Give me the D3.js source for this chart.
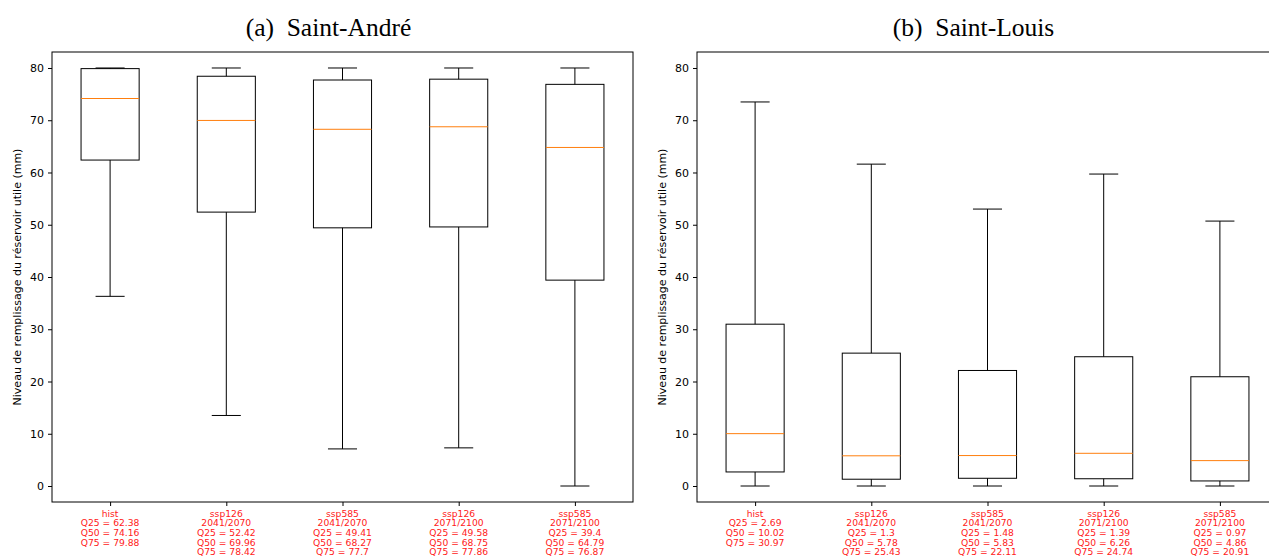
<!DOCTYPE html>
<html>
<head>
<meta charset="utf-8">
<script src="https://cdn.jsdelivr.net/npm/d3@7"></script>
<style>
  html, body { margin: 0; padding: 0; background: #fff; }
  svg { display: block; }
</style>
</head>
<body>
<svg id="chart" width="1269" height="556"></svg>
<script>
// ---- Data ----
const categories = [
  ["hist"],
  ["ssp126", "2041/2070"],
  ["ssp585", "2041/2070"],
  ["ssp126", "2071/2100"],
  ["ssp585", "2071/2100"]
];
const yTicks = [0, 10, 20, 30, 40, 50, 60, 70, 80];
const titles = ["(a)  Saint-André", "(b)  Saint-Louis"];
const yLabel = "Niveau de remplissage du réservoir utile (mm)";

// Saint-André
const andreLow  = [36.3, 13.5, 7.1, 7.3, 0];
const andreQ25  = [62.38, 52.42, 49.41, 49.58, 39.4];
const andreQ50  = [74.16, 69.96, 68.27, 68.75, 64.79];
const andreQ75  = [79.88, 78.42, 77.7, 77.86, 76.87];
const andreHigh = [80, 80, 80, 80, 80];

// Saint-Louis
const louisLow  = [0, 0, 0, 0, 0];
const louisQ25  = [2.69, 1.3, 1.48, 1.39, 0.97];
const louisQ50  = [10.02, 5.78, 5.83, 6.26, 4.86];
const louisQ75  = [30.97, 25.43, 22.11, 24.74, 20.91];
const louisHigh = [73.5, 61.6, 53.0, 59.7, 50.7];

const panels = [
  {title: titles[0], titleX: 328.5, x0: 52, x1: 633, ylabX: 17,
   low: andreLow, q25: andreQ25, q50: andreQ50, q75: andreQ75, high: andreHigh},
  {title: titles[1], titleX: 973.5, x0: 697, x1: 1278, ylabX: 662,
   low: louisLow, q25: louisQ25, q50: louisQ50, q75: louisQ75, high: louisHigh}
];

const svg = d3.select("#chart");
const plotTop = 52, plotBottom = 502;
const y = d3.scaleLinear().domain([-3.06, 83.06]).range([plotBottom, plotTop]);

panels.forEach(p => {
  const x = d3.scaleLinear().domain([0.5, 5.5]).range([p.x0, p.x1]);
  const step = x(2) - x(1);
  const g = svg.append("g");

  // title
  g.append("text").attr("x", p.titleX).attr("y", 36)
    .attr("text-anchor", "middle")
    .style("white-space", "pre")
    .style("font-family", "'Liberation Serif', 'Times New Roman', serif")
    .style("font-size", "25.5px").attr("fill", "#000")
    .text(p.title);

  // y axis
  const ya = g.append("g").attr("transform", `translate(${p.x0},0)`)
    .call(d3.axisLeft(y).tickValues(yTicks).tickSize(4).tickPadding(4).tickFormat(d3.format("d")));
  ya.select(".domain").remove();
  ya.selectAll("text").style("font-family", "'DejaVu Sans', sans-serif").style("font-size", "11px").attr("fill", "#000");
  ya.selectAll("line").attr("stroke", "#000");

  // y label
  g.append("text")
    .attr("transform", `translate(${p.ylabX},${(plotTop + plotBottom) / 2}) rotate(-90)`)
    .attr("text-anchor", "middle").attr("dominant-baseline", "central")
    .style("font-family", "'DejaVu Sans', sans-serif").style("font-size", "11px")
    .attr("fill", "#000").text(yLabel);

  // x ticks
  const xa = g.append("g").attr("transform", `translate(0,${plotBottom})`)
    .call(d3.axisBottom(x).tickValues([1, 2, 3, 4, 5]).tickSize(4).tickFormat(""));
  xa.select(".domain").remove();
  xa.selectAll("line").attr("stroke", "#000");

  // boxes
  categories.forEach((cat, i) => {
    const cx = x(i + 1);
    const bw = step * 0.5, cw = step * 0.25;
    const bg = g.append("g").attr("stroke-width", 1).attr("fill", "none");
    // whiskers
    bg.append("line").attr("x1", cx).attr("x2", cx).attr("y1", y(p.q75[i])).attr("y2", y(p.high[i])).attr("stroke", "#000");
    bg.append("line").attr("x1", cx).attr("x2", cx).attr("y1", y(p.q25[i])).attr("y2", y(p.low[i])).attr("stroke", "#000");
    // caps
    bg.append("line").attr("x1", cx - cw / 2).attr("x2", cx + cw / 2).attr("y1", y(p.high[i])).attr("y2", y(p.high[i])).attr("stroke", "#000");
    bg.append("line").attr("x1", cx - cw / 2).attr("x2", cx + cw / 2).attr("y1", y(p.low[i])).attr("y2", y(p.low[i])).attr("stroke", "#000");
    // box
    bg.append("rect").attr("x", cx - bw / 2).attr("width", bw)
      .attr("y", y(p.q75[i])).attr("height", y(p.q25[i]) - y(p.q75[i]))
      .attr("stroke", "#000").attr("fill", "none");
    // median
    bg.append("line").attr("x1", cx - bw / 2).attr("x2", cx + bw / 2).attr("y1", y(p.q50[i])).attr("y2", y(p.q50[i])).attr("stroke", "#ff7f0e");

    // red labels
    const lines = cat.concat([
      "Q25 = " + p.q25[i],
      "Q50 = " + p.q50[i],
      "Q75 = " + p.q75[i]
    ]);
    const t = g.append("text").attr("text-anchor", "middle")
      .style("font-family", "'DejaVu Sans', sans-serif").style("font-size", "9.2px")
      .attr("fill", "#ff2020");
    lines.forEach((s, k) => {
      t.append("tspan").attr("x", cx).attr("y", 516.5 + k * 9.7).text(s);
    });
  });

  // frame
  g.append("rect").attr("x", p.x0).attr("y", plotTop).attr("width", p.x1 - p.x0).attr("height", plotBottom - plotTop)
    .attr("fill", "none").attr("stroke", "#000").attr("stroke-width", 1);
});
</script>
</body>
</html>
